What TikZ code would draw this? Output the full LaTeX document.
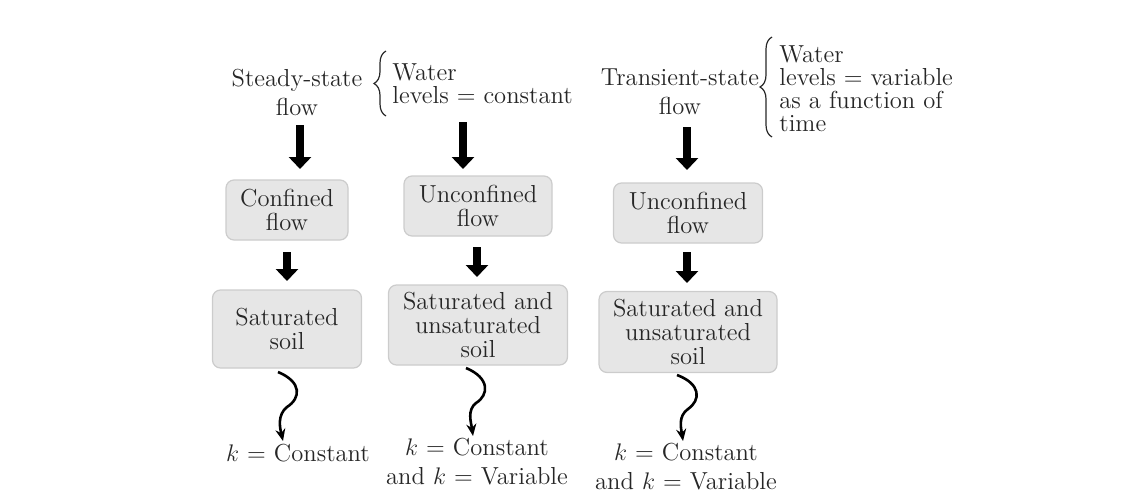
\documentclass[tikz,border=0pt]{standalone}
\usetikzlibrary{arrows.meta,decorations.pathreplacing}
\definecolor{txt}{HTML}{262626}
\definecolor{boxfill}{HTML}{E6E6E6}
\definecolor{boxline}{HTML}{CCCCCC}
\begin{document}
\begin{tikzpicture}[x=0.5pt,y=-0.5pt,
  every node/.style={text=txt},
  title/.style={align=center,font=\fontsize{12.3}{14.5}\selectfont,inner sep=0pt},
  note/.style={align=left,font=\fontsize{12.3}{11.5}\selectfont,inner sep=0pt,anchor=west},
  flowbox/.style={draw=boxline,fill=boxfill,rounded corners=4pt,line width=0.6pt,
    align=center,font=\fontsize{12.3}{12}\selectfont,inner sep=0pt},
  result/.style={align=center,font=\fontsize{12.3}{14.5}\selectfont,inner sep=0pt},
  fat/.style={line width=4pt,draw=black,-{Triangle[width=11pt,length=6pt]}},
  wavy/.style={line width=1.3pt,draw=black,-{Stealth[length=6pt,width=5pt]}},
  bracestyle/.style={decorate,decoration={brace,amplitude=6pt},line width=0.6pt,draw=txt}]
\useasboundingbox (0,0) rectangle (1143,492);

% titles and notes
\node[title] (t1) at (297,92) {Steady-state\\flow};
\node[note] (w1) at (392,84) {Water\\levels = constant};
\node[title] (t3) at (680,92) {Transient-state\\flow};
\node[note] (w3) at (779,89) {Water\\levels = variable\\as a function of\\time};
\draw[bracestyle] (386,116) -- (386,51);
\draw[bracestyle] (772,137) -- (772,37);

% boxes
\node[flowbox,minimum width=61pt,minimum height=30pt] (b1) at (287,210) {Confined\\flow};
\node[flowbox,minimum width=74.5pt,minimum height=39pt] (c1) at (287,329) {Saturated\\soil};
\node[flowbox,minimum width=74pt,minimum height=30pt] (b2) at (478,206) {Unconfined\\flow};
\node[flowbox,minimum width=89.5pt,minimum height=40pt] (c2) at (478,325) {Saturated and\\unsaturated\\soil};
\node[flowbox,minimum width=74.5pt,minimum height=30pt] (b3) at (688,213) {Unconfined\\flow};
\node[flowbox,minimum width=89pt,minimum height=40.5pt] (c3) at (688,332) {Saturated and\\unsaturated\\soil};

% results
\node[result] (k1) at (298,453) {$k$ = Constant};
\node[result] (k2) at (477,462) {$k$ = Constant\\and $k$ = Variable};
\node[result] (k3) at (686,467) {$k$ = Constant\\and $k$ = Variable};

% arrow end points
\coordinate (a1s) at (300,125); \coordinate (a1e) at (300,169);
\coordinate (a2s) at (463,122); \coordinate (a2e) at (463,169);
\coordinate (a3s) at (687,127); \coordinate (a3e) at (687,170);
\coordinate (m1s) at (287,252); \coordinate (m1e) at (287,281);
\coordinate (m2s) at (477,247); \coordinate (m2e) at (477,277);
\coordinate (m3s) at (687,252); \coordinate (m3e) at (687,283);

\draw[fat] (a1s) -- (a1e);
\draw[fat] (a2s) -- (a2e);
\draw[fat] (a3s) -- (a3e);
\draw[fat] (m1s) -- (m1e);
\draw[fat] (m2s) -- (m2e);
\draw[fat] (m3s) -- (m3e);

% wavy arrows
\coordinate (s1) at (278,372); \coordinate (e1) at (283,441);
\coordinate (s2) at (466,368); \coordinate (e2) at (473,436);
\coordinate (s3) at (677,375); \coordinate (e3) at (683,441);
\draw[wavy] (s1) .. controls (302,382) and (301,398) .. (287,407) .. controls (277,415) and (280,428) .. (e1);
\draw[wavy] (s2) .. controls (490,378) and (489,395) .. (476,403) .. controls (467,410) and (471,422) .. (e2);
\draw[wavy] (s3) .. controls (701,384) and (701,400) .. (688,409) .. controls (678,416) and (681,428) .. (e3);
\end{tikzpicture}
\end{document}
